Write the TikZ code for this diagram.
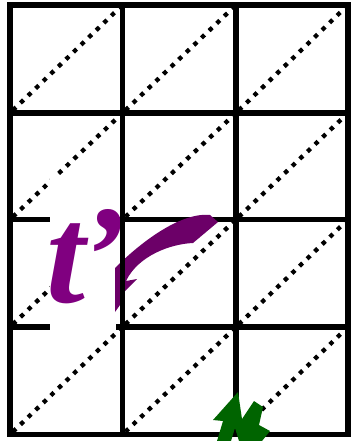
\documentclass[tikz,border=0pt]{standalone}
\usepackage{fontspec}
\setmainfont{Liberation Serif}
\definecolor{tpurple}{RGB}{128,0,128}
\definecolor{spurple}{RGB}{108,0,104}
\definecolor{dgreen}{RGB}{0,100,0}
\begin{document}
\begin{tikzpicture}[x=1pt,y=-1pt,
  gridline/.style={line width=5.6pt,line cap=rect},
  diag/.style={line width=4.3pt,dash pattern=on 4.3pt off 6.2pt,shorten <=4pt,shorten >=3pt}]
\useasboundingbox (0,0) rectangle (352,441);
\fill[white] (0,0) rectangle (352,441);
\foreach \xa/\xb in {10/122.5,122.5/236,236/348}
  \foreach \ya/\yb in {5/113,113/219.5,219.5/327,327/434.5}
    \draw[diag] (\xa,\yb) -- (\xb,\ya);
\foreach \y in {5,113,219.5,327,434.5}
  \draw[gridline] (10,\y) -- (348,\y);
\fill[white] (50,175) rectangle (116,333);
\node[anchor=base west,inner sep=0,text=tpurple,font=\fontsize{140}{140}\selectfont\bfseries\itshape] (tp) at (46,302) {t\kern-6pt’};
\fill[spurple] (115,312) -- (115,268) .. controls (140,243) and (180,212) .. (210,215)
  -- (218,222) -- (193,243) .. controls (170,244) and (138,256) .. (126,281)
  -- (137,279) -- (124,292) -- (120,305) -- cycle;
\foreach \x in {10,122.5,236,348}
  \draw[gridline] (\x,5) -- (\x,434.5);
\fill[dgreen] (238,392) -- (213,420) -- (223,421) -- (217,441) -- (231,441) -- (235,428)
  -- (239,441) -- (262,441) -- (270,431) -- (259,425) -- (263,407) -- (254,401)
  -- (242,419) -- cycle;
\end{tikzpicture}
\end{document}
